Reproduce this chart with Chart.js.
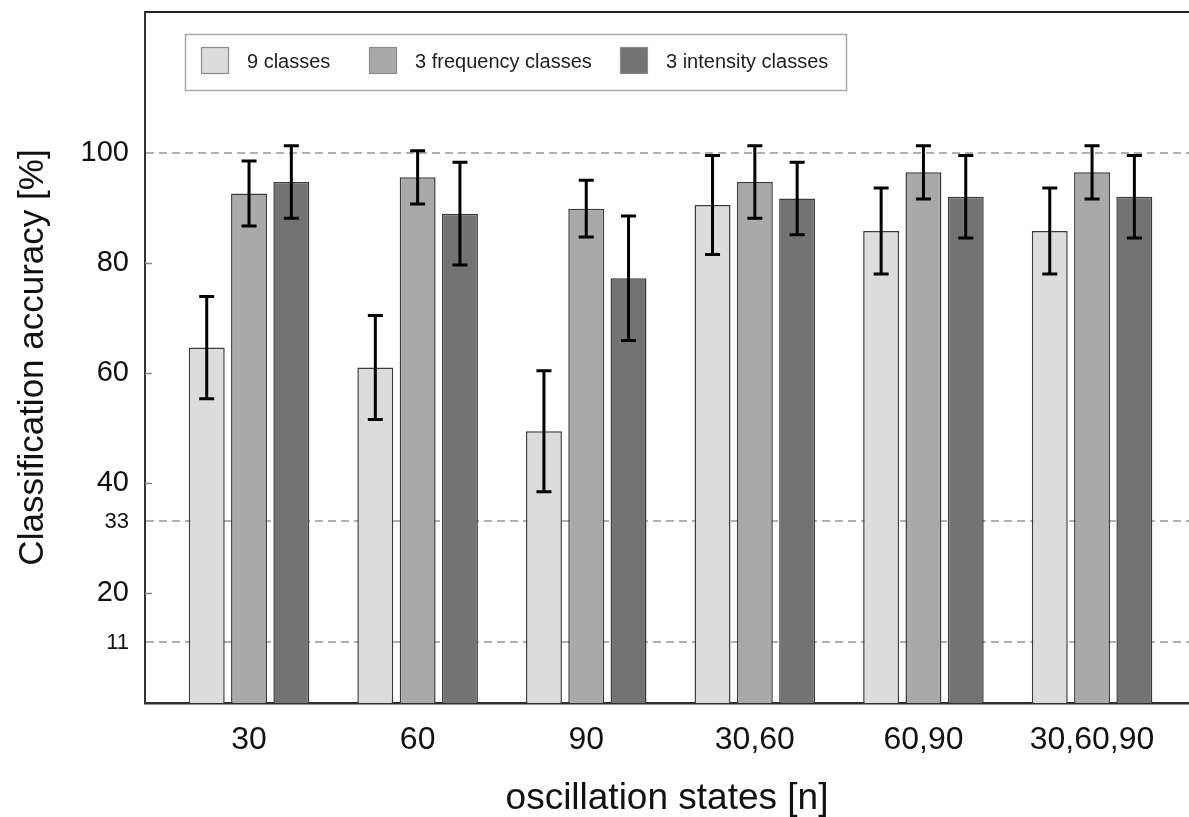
<!DOCTYPE html>
<html>
<head>
<meta charset="utf-8">
<script src="https://cdn.jsdelivr.net/npm/chart.js@4.4.0/dist/chart.umd.min.js"></script>
<style>
html,body{margin:0;padding:0;background:#fff;overflow:hidden}
canvas{display:block}
</style>
</head>
<body>
<canvas id="c" width="1189" height="817"></canvas>
<script>
// ---- data ----
const categories = ['30', '60', '90', '30,60', '60,90', '30,60,90'];
const seriesNames = ['9 classes', '3 frequency classes', '3 intensity classes'];
const nineClasses = [64.6, 61.0, 49.4, 90.5, 85.8, 85.8];
const nineErr     = [9.3, 9.45, 11.0, 9.0, 7.8, 7.8];
const freqClasses = [92.6, 95.55, 89.85, 94.7, 96.45, 96.45];
const freqErr     = [5.9, 4.85, 5.15, 6.6, 4.85, 4.85];
const intClasses  = [94.7, 88.95, 77.2, 91.7, 92.0, 92.0];
const intErr      = [6.6, 9.35, 11.3, 6.6, 7.5, 7.5];
const yTickValues = [11, 20, 33, 40, 60, 80, 100];
const dashedLevels = [11, 33, 100];
const smallTickLabels = [11, 33];

const FONT = '"Liberation Sans", Arial, Helvetica, sans-serif';
const colors = ['#dcdcdc', '#a9a9a9', '#737373'];
const errors = [nineErr, freqErr, intErr];

function toPoints(arr) { return arr.map((v, i) => ({ x: i, y: v })); }

const X_MIN = -0.617, X_MAX = 5.575;

const errorBarPlugin = {
  id: 'errorBars',
  afterDatasetsDraw(chart) {
    const ctx = chart.ctx;
    const yScale = chart.scales.y;
    ctx.save();
    ctx.strokeStyle = '#000';
    ctx.lineWidth = 3;
    ctx.lineCap = 'butt';
    chart.data.datasets.forEach((ds, di) => {
      const meta = chart.getDatasetMeta(di);
      meta.data.forEach((bar, i) => {
        const v = ds.data[i].y;
        const e = errors[di][i];
        const yt = yScale.getPixelForValue(v + e);
        const yb = yScale.getPixelForValue(v - e);
        const x = bar.x;
        const hw = 7.5;
        ctx.beginPath();
        ctx.moveTo(x, yt); ctx.lineTo(x, yb);
        ctx.moveTo(x - hw, yt); ctx.lineTo(x + hw, yt);
        ctx.moveTo(x - hw, yb); ctx.lineTo(x + hw, yb);
        ctx.stroke();
      });
    });
    ctx.restore();
  }
};

const innerTicksPlugin = {
  id: 'innerTicks',
  afterDraw(chart) {
    const ctx = chart.ctx;
    const y = chart.scales.y;
    const left = chart.chartArea.left;
    ctx.save();
    ctx.strokeStyle = '#888';
    ctx.lineWidth = 1.5;
    yTickValues.filter(v => !dashedLevels.includes(v)).forEach(v => {
      const py = Math.round(y.getPixelForValue(v)) + 0.5;
      ctx.beginPath();
      ctx.moveTo(left, py); ctx.lineTo(left + 7, py);
      ctx.stroke();
    });
    ctx.restore();
  }
};

const boxLegendPlugin = {
  id: 'boxLegend',
  afterDraw(chart) {
    const ctx = chart.ctx;
    ctx.save();
    ctx.fillStyle = '#fff';
    ctx.fillRect(185, 34, 662, 57);
    ctx.strokeStyle = '#a8a8a8';
    ctx.lineWidth = 1.5;
    ctx.strokeRect(185.5, 34.5, 661, 56);
    const swX = [201, 369, 620];
    ctx.font = '20px ' + FONT;
    ctx.textBaseline = 'middle';
    chart.data.datasets.forEach((ds, i) => {
      ctx.fillStyle = ds.backgroundColor;
      ctx.fillRect(swX[i], 47, 28, 27);
      ctx.strokeStyle = '#8a8a8a';
      ctx.lineWidth = 1.2;
      ctx.strokeRect(swX[i] + 0.5, 47.5, 27, 26);
      ctx.fillStyle = '#1e1e1e';
      ctx.fillText(ds.label, swX[i] + 46, 62);
    });
    ctx.restore();
  }
};

const datasets = [nineClasses, freqClasses, intClasses].map((arr, i) => ({
  label: seriesNames[i],
  data: toPoints(arr),
  backgroundColor: colors[i],
  borderColor: '#3c3c3c',
  borderWidth: 1.5,
  categoryPercentage: 0.7527,
  barPercentage: 0.85
}));

new Chart(document.getElementById('c'), {
  type: 'bar',
  data: { datasets },
  plugins: [errorBarPlugin, innerTicksPlugin, boxLegendPlugin],
  options: {
    responsive: false,
    animation: false,
    devicePixelRatio: 1,
    layout: { padding: 0 },
    plugins: { legend: { display: false }, tooltip: { enabled: false } },
    scales: {
      x: {
        type: 'linear',
        position: 'bottom',
        offset: false,
        min: X_MIN, max: X_MAX,
        afterBuildTicks: s => { s.ticks = categories.map((c, i) => ({ value: i })); },
        afterFit: s => { s.height = 114; s.paddingLeft = 0; s.paddingRight = 0; },
        ticks: {
          callback: v => categories[v],
          font: { family: FONT, size: 32 },
          color: '#111',
          padding: 18,
          autoSkip: false,
          maxRotation: 0
        },
        grid: { display: false, drawTicks: false, offset: false },
        border: { display: true, color: '#2e2e2e', width: 2.5 },
        title: {
          display: true,
          text: 'oscillation states [n]',
          font: { family: FONT, size: 37, lineHeight: 1.0 },
          color: '#111',
          padding: { top: 0, bottom: 0 }
        }
      },
      xTop: {
        type: 'linear',
        position: 'top',
        offset: false,
        min: X_MIN, max: X_MAX,
        afterFit: s => { s.height = 12; s.paddingLeft = 0; s.paddingRight = 0; },
        ticks: { display: false },
        grid: { display: false, drawTicks: false, offset: false },
        border: { display: true, color: '#222', width: 2 }
      },
      y: {
        min: 0, max: 125.6,
        afterBuildTicks: s => { s.ticks = yTickValues.map(v => ({ value: v })); },
        afterFit: s => { s.width = 145; s.paddingTop = 0; s.paddingBottom = 0; },
        ticks: {
          font: ctx => ({ family: FONT, size: smallTickLabels.includes(ctx.tick && ctx.tick.value) ? 22 : 29 }),
          color: '#111',
          padding: 16
        },
        grid: {
          drawTicks: false,
          color: ctx => (ctx.tick && dashedLevels.includes(ctx.tick.value)) ? '#b0b0b0' : 'rgba(0,0,0,0)',
          lineWidth: 2
        },
        border: { display: true, color: '#333', width: 2, dash: [8, 5] },
        title: {
          display: true,
          text: 'Classification accuracy [%]',
          font: { family: FONT, size: 35 },
          color: '#111',
          padding: { top: 12, bottom: 0 }
        }
      }
    }
  }
});
</script>
</body>
</html>
